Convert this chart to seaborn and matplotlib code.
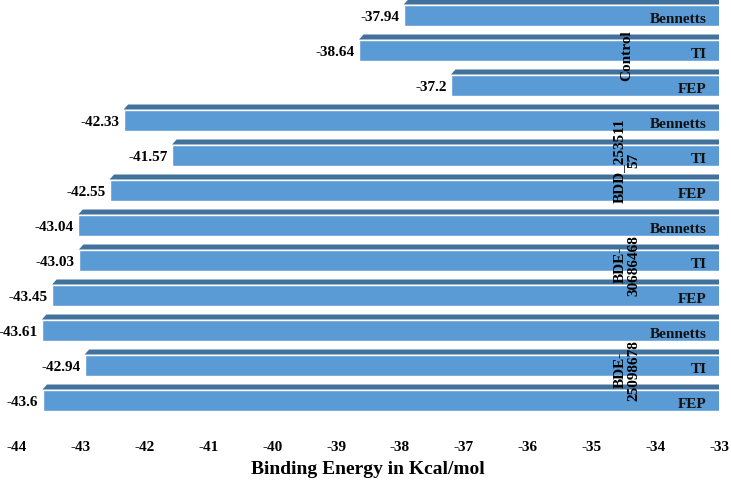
import matplotlib
matplotlib.use("Agg")
import matplotlib.pyplot as plt
import matplotlib.transforms as mtransforms
from matplotlib.patches import Polygon
import seaborn as sns
import pandas as pd

# Data
groups = ["Control", "BDD_253511\n57", "BDE-\n30686468", "BDE-\n25098678"]
methods = ["Bennetts", "TI", "FEP"]
control = [-37.94, -38.64, -37.2]
bdd_25351157 = [-42.33, -41.57, -42.55]
bde_30686468 = [-43.04, -43.03, -43.45]
bde_25098678 = [-43.61, -42.94, -43.6]
xticks = list(range(-44, -32))

# Parameters
front_color = "#5b9bd5"
top_color = "#41719c"
bar_height = 0.6
depth_px = (4.5, 5.0)
fs = 11

sns.set_theme(style="white")
plt.rcParams['font.family'] = ['Liberation Serif', 'DejaVu Serif']
plt.rcParams['font.weight'] = 'bold'
plt.rcParams['text.color'] = 'black'
plt.rcParams['axes.labelcolor'] = 'black'
plt.rcParams['xtick.color'] = 'black'

rows = []
for g, vals in zip(groups, [control, bdd_25351157, bde_30686468, bde_25098678]):
    for m, v in zip(methods, vals):
        rows.append({"row": g + "|" + m, "group": g, "method": m, "energy": v})
df = pd.DataFrame(rows)

fig = plt.figure(figsize=(7.31, 4.80), dpi=100)
ax = fig.add_axes([17 / 731, 50 / 480, 702 / 731, 430 / 480])

sns.barplot(data=df, x="energy", y="row", orient="h", color=front_color,
            saturation=1, width=bar_height, ax=ax)

ax.set_xlim(-44, -33)
ax.set_ylim(11.857, -0.4286)
ax.set_xticks(xticks)
ax.set_xticklabels([str(t) for t in xticks], fontsize=fs, fontweight="bold")
ax.set_yticks([])
ax.set_ylabel("")
ax.set_xlabel("Binding Energy in Kcal/mol", fontsize=14, fontweight="bold",
              labelpad=5)
ax.tick_params(axis="x", length=0, pad=8)
for s in ax.spines.values():
    s.set_visible(False)

# pixel -> data scale for the 3D top face
bbox = ax.get_window_extent()
dx = depth_px[0] * (ax.get_xlim()[1] - ax.get_xlim()[0]) / bbox.width
dy = depth_px[1] * (ax.get_ylim()[0] - ax.get_ylim()[1]) / bbox.height

for p, (_, r) in zip(ax.patches, df.iterrows()):
    x0 = p.get_x() + min(p.get_width(), 0)
    x1 = p.get_x() + max(p.get_width(), 0)
    top = p.get_y()
    poly = Polygon([(x0, top), (x0 + dx, top - dy), (x1 + dx, top - dy), (x1, top)],
                   closed=True, facecolor=top_color, edgecolor="none")
    ax.add_patch(poly)
    yc = p.get_y() + p.get_height() / 2
    ax.annotate(f"{r['energy']:g}", (x0, yc), xytext=(-3, -2),
                textcoords="offset points", ha="right", va="center",
                fontsize=fs, fontweight="bold")
    ax.annotate(r["method"], (1, yc), xycoords=ax.get_yaxis_transform(),
                xytext=(-9, -3), textcoords="offset points", ha="right",
                va="center", fontsize=fs, fontweight="bold", color="#111111")

trans = mtransforms.blended_transform_factory(ax.transAxes, ax.transData)
for i, g in enumerate(groups):
    ax.text(0.869, i * 3 + 1 + 0.15, g, transform=trans, rotation=90,
            ha="center", va="center", multialignment="center",
            fontsize=fs, fontweight="bold", linespacing=1.15)

fig.savefig("out.png", dpi=100)
